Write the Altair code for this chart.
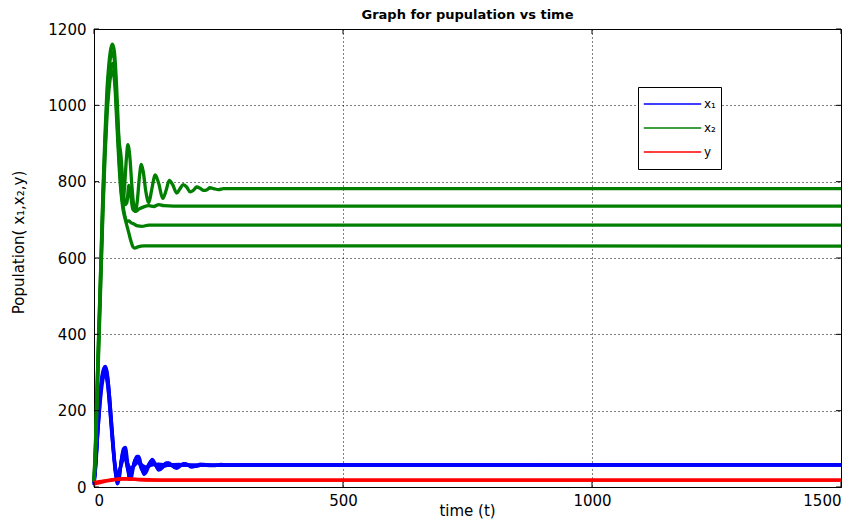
import altair as alt
import pandas as pd

# ---------------- data ----------------
# x2 (green) trajectories
x2_t_a = [0, 3, 6, 10, 14, 18, 22, 26, 30, 34, 37, 41, 45, 49, 53, 57, 61, 65, 68, 72, 76, 80, 83, 87, 91, 95, 99, 104, 110, 116, 123, 130, 138, 145, 151, 158, 166, 172, 179, 186, 193, 200, 206, 213, 220, 227, 233, 240, 250, 260, 280, 1500]
x2_v_a = [20, 120, 260, 430, 600, 780, 920, 1040, 1110, 1150, 1160, 1140, 1060, 940, 820, 750, 780, 860, 897, 865, 790, 735, 722, 750, 810, 845, 825, 775, 745, 780, 818, 795, 756, 778, 803, 792, 770, 780, 792, 786, 773, 778, 786, 783, 777, 779, 784, 782, 779, 782, 782, 782]
x2_t_b = [0, 3, 6, 10, 14, 18, 22, 26, 30, 34, 38, 42, 46, 50, 54, 58, 62, 66, 70, 74, 78, 83, 90, 100, 110, 120, 130, 140, 160, 1500]
x2_v_b = [18, 110, 250, 420, 590, 760, 900, 1010, 1090, 1130, 1140, 1100, 990, 910, 870, 800, 740, 745, 790, 760, 728, 722, 728, 734, 737, 735, 740, 737, 736, 736]
x2_t_c = [0, 3, 6, 10, 14, 18, 22, 26, 30, 34, 38, 42, 46, 50, 54, 58, 62, 66, 70, 74, 80, 88, 96, 110, 1500]
x2_v_c = [15, 100, 230, 400, 570, 740, 880, 990, 1060, 1100, 1110, 1070, 970, 870, 790, 740, 710, 696, 697, 693, 689, 684, 683, 686, 686]
x2_t_d = [0, 3, 6, 10, 14, 18, 22, 26, 30, 34, 38, 42, 46, 50, 54, 58, 62, 66, 70, 74, 78, 82, 88, 100, 1500]
x2_v_d = [12, 90, 210, 380, 550, 720, 860, 970, 1040, 1080, 1090, 1050, 950, 850, 775, 730, 705, 685, 665, 645, 630, 626, 629, 632, 631]

# x1 (blue) trajectories
x1_t_a = [0, 4, 8, 12, 16, 20, 23, 27, 31, 35, 39, 43, 47, 51, 55, 59, 63, 67, 71, 75, 80, 86, 90, 95, 100, 106, 112, 117, 123, 130, 137, 143, 150, 158, 166, 173, 180, 188, 196, 205, 214, 225, 240, 255, 270, 290, 1500]
x1_v_a = [10, 80, 170, 240, 290, 312, 316, 295, 240, 170, 100, 40, 8, 25, 70, 100, 104, 70, 20, 25, 60, 80, 80, 55, 33, 42, 62, 72, 60, 44, 50, 62, 63, 55, 49, 55, 61, 58, 52, 55, 60, 57, 56, 59, 57, 58, 58]
x1_t_b = [0, 4, 8, 12, 16, 20, 24, 28, 32, 36, 40, 44, 48, 52, 56, 60, 64, 68, 72, 77, 83, 89, 95, 101, 108, 115, 122, 130, 138, 146, 154, 162, 172, 182, 192, 205, 220, 240, 260, 1500]
x1_v_b = [5, 60, 150, 225, 280, 305, 308, 280, 225, 155, 90, 35, 15, 40, 80, 95, 80, 45, 25, 45, 72, 70, 48, 38, 55, 68, 60, 47, 53, 63, 59, 51, 56, 61, 57, 54, 59, 57, 58, 58]
x1_t_c = [0, 4, 8, 12, 16, 20, 24, 28, 32, 36, 40, 44, 48, 52, 56, 60, 64, 68, 73, 79, 85, 92, 99, 107, 115, 125, 135, 150, 170, 200, 1500]
x1_v_c = [8, 70, 160, 235, 285, 300, 295, 265, 205, 140, 75, 30, 20, 45, 75, 85, 70, 45, 38, 55, 68, 60, 48, 52, 62, 58, 52, 58, 59, 57, 58]
x1_t_d = [0, 4, 8, 12, 16, 20, 24, 28, 32, 36, 40, 44, 48, 53, 58, 63, 68, 74, 80, 88, 96, 105, 115, 130, 150, 1500]
x1_v_d = [12, 75, 150, 215, 265, 290, 290, 260, 200, 135, 80, 45, 35, 50, 70, 75, 60, 48, 55, 64, 58, 52, 57, 60, 57, 58]

# y (red) trajectories
y_t_a = [0, 10, 20, 30, 40, 50, 60, 75, 90, 110, 140, 1500]
y_v_a = [12, 14, 16, 18, 20, 21, 22, 21, 20, 19, 18, 18]
y_t_b = [0, 10, 20, 30, 40, 55, 70, 90, 120, 1500]
y_v_b = [8, 11, 14, 17, 19, 21, 21, 19, 18, 18]

series_keys = ["x1", "x2", "y"]
series_labels = ["x₁", "x₂", "y"]
series_colors = ["#0000ff", "#007f00", "#ff0000"]
x_ticks = [0, 500, 1000, 1500]
y_ticks = [0, 200, 400, 600, 800, 1000, 1200]
x_title = "time (t)"
y_title = "Population( x₁,x₂,y)"

trajectories = {
    "x1": [(x1_t_a, x1_v_a), (x1_t_b, x1_v_b), (x1_t_c, x1_v_c), (x1_t_d, x1_v_d)],
    "x2": [(x2_t_a, x2_v_a), (x2_t_b, x2_v_b), (x2_t_c, x2_v_c), (x2_t_d, x2_v_d)],
    "y": [(y_t_a, y_v_a), (y_t_b, y_v_b)],
}

rows = []
for key, label in zip(series_keys, series_labels):
    for k, (ts, vs) in enumerate(trajectories[key]):
        for t, v in zip(ts, vs):
            rows.append({"t": t, "v": v, "key": key, "series": label, "traj": f"{key}_{k}"})
df = pd.DataFrame(rows)

FONT = "DejaVu Sans"
W, H = 747, 458
TICK = 5

x_scale = alt.Scale(domain=[0, 1500], nice=False)
y_scale = alt.Scale(domain=[0, 1200], nice=False)

color = alt.Color(
    "series:N",
    scale=alt.Scale(domain=series_labels, range=series_colors),
    legend=alt.Legend(
        title=None,
        orient="none",
        legendX=544,
        legendY=58,
        symbolType="stroke",
        symbolSize=3300,
        symbolStrokeWidth=1.5,
        clipHeight=24,
        labelFont=FONT,
        labelFontSize=12,
        labelColor="black",
        labelOffset=2,
        strokeColor="black",
        fillColor="white",
        padding=5,
        rowPadding=0,
    ),
)

stroke_w = alt.StrokeWidth(
    "key:N",
    scale=alt.Scale(domain=series_keys, range=[3.3, 3.3, 2.2]),
    legend=None,
)

base = alt.Chart(df).mark_line(interpolate="monotone").encode(
    x=alt.X(
        "t:Q",
        scale=x_scale,
        title=x_title,
        axis=alt.Axis(values=x_ticks, format="d", titleX=373, titleY=23,
                      titleFontSize=15, titleBaseline="middle", labelPadding=6),
    ),
    y=alt.Y(
        "v:Q",
        scale=y_scale,
        title=y_title,
        axis=alt.Axis(values=y_ticks, format="d", titleX=-76,
                      titleY=213, titleFontSize=15, titleBaseline="middle", labelPadding=8),
    ),
    color=color,
    strokeWidth=stroke_w,
    detail="traj:N",
    order="t:Q",
)

layers = [base.transform_filter(alt.datum.key == k) for k in series_keys]

# inward tick marks on all four sides (MATLAB box style)
xt_df = pd.DataFrame({"t": x_ticks})
yt_df = pd.DataFrame({"v": y_ticks})
xtick_bottom = alt.Chart(xt_df).mark_rule(color="black", strokeWidth=1).encode(
    x=alt.X("t:Q", scale=x_scale, title=x_title), y=alt.value(H), y2=alt.value(H - TICK))
xtick_top = alt.Chart(xt_df).mark_rule(color="black", strokeWidth=1).encode(
    x=alt.X("t:Q", scale=x_scale, title=x_title), y=alt.value(0), y2=alt.value(TICK))
ytick_left = alt.Chart(yt_df).mark_rule(color="black", strokeWidth=1).encode(
    y=alt.Y("v:Q", scale=y_scale, title=y_title), x=alt.value(0), x2=alt.value(TICK))
ytick_right = alt.Chart(yt_df).mark_rule(color="black", strokeWidth=1).encode(
    y=alt.Y("v:Q", scale=y_scale, title=y_title), x=alt.value(W), x2=alt.value(W - TICK))

chart = alt.layer(*layers, xtick_bottom, xtick_top, ytick_left, ytick_right).properties(
    width=W,
    height=H,
    autosize="none",
    padding={"left": 86, "top": 21, "right": 12, "bottom": 33},
    title=alt.TitleParams(
        "Graph for pupulation vs time",
        font=FONT,
        fontSize=13,
        fontWeight="bold",
        anchor="middle",
        offset=0,
        color="black",
    ),
).configure_view(
    stroke="black", strokeWidth=1
).configure_axis(
    grid=True,
    gridColor="black",
    gridOpacity=1,
    gridDash=[1, 3],
    gridWidth=1,
    ticks=False,
    domainColor="black",
    labelFont=FONT,
    labelFontSize=15,
    labelColor="black",
    titleFont=FONT,
    titleFontSize=14,
    titleFontWeight="normal",
    titleColor="black",
)

chart.save("out.html", embed_options={"renderer": "svg", "actions": False})
